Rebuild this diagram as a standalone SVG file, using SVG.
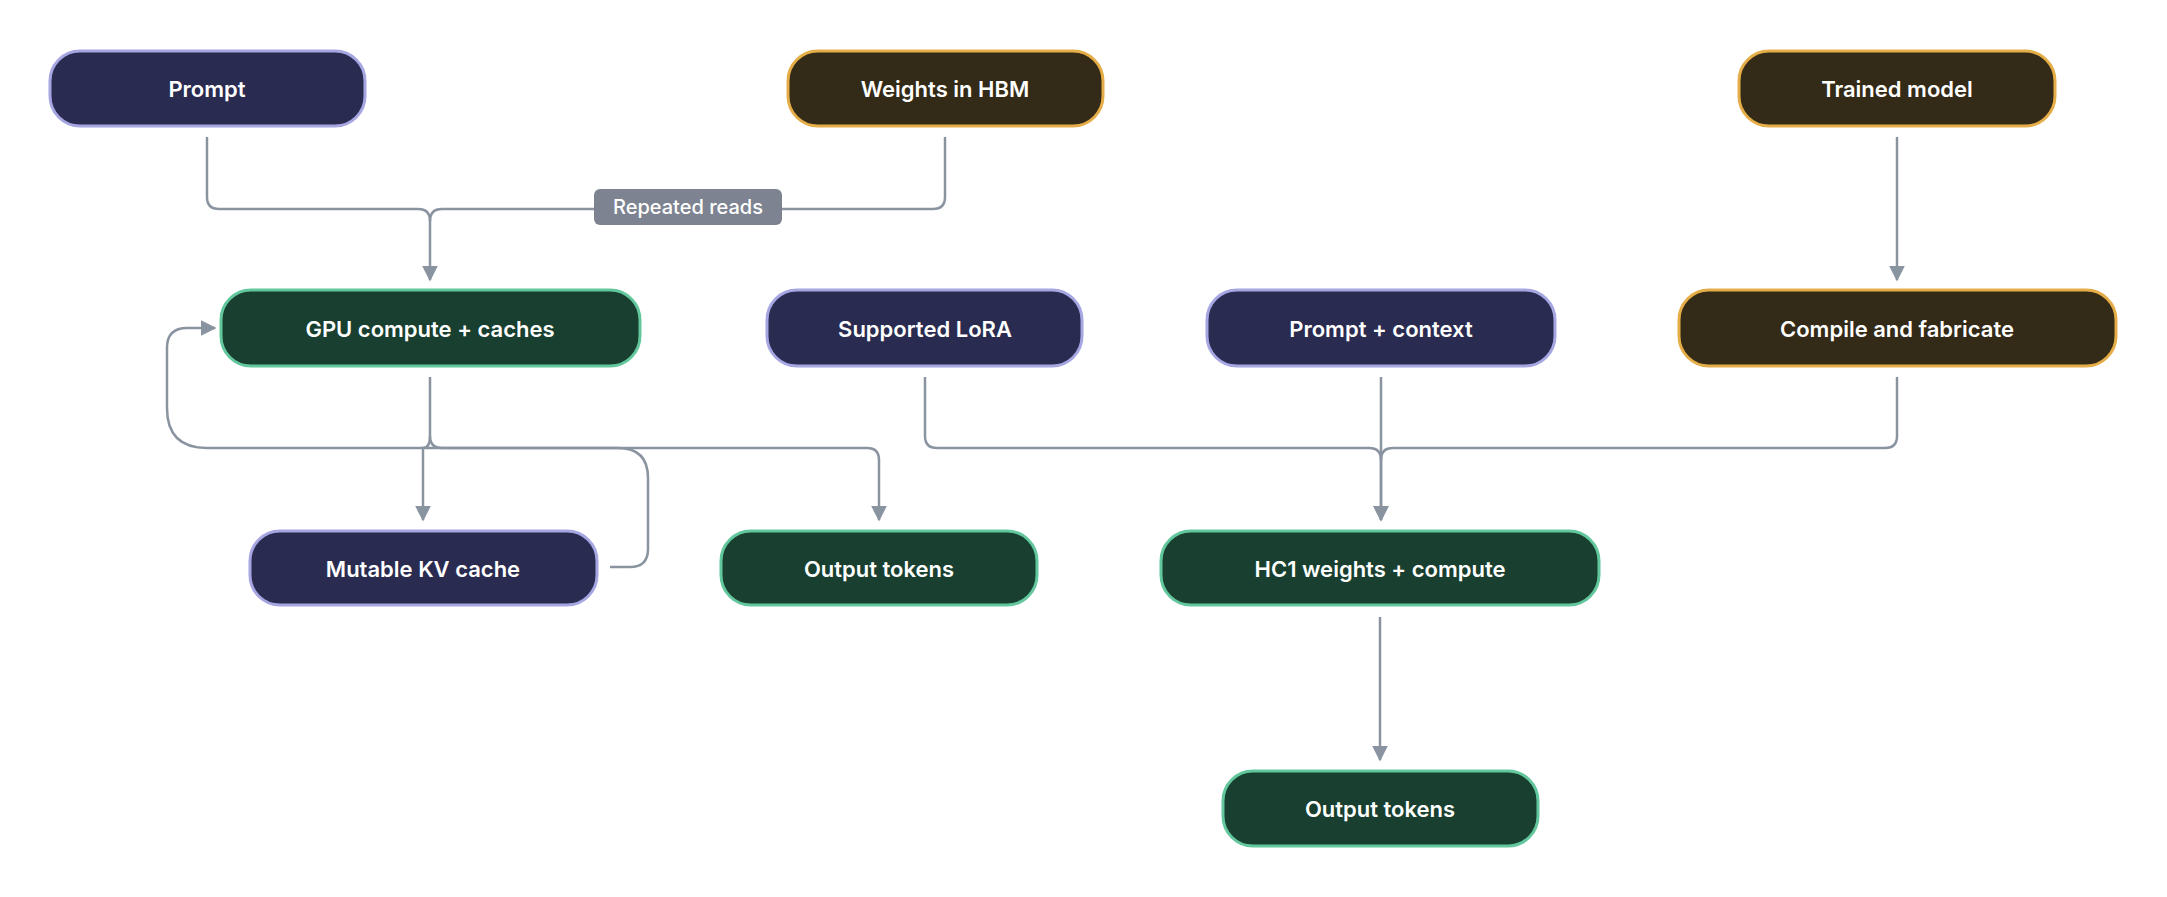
<svg xmlns="http://www.w3.org/2000/svg" width="2167" height="897" viewBox="0 0 2167 897">
<style>
.n rect{stroke-width:3}
.b rect{fill:#2a2b50;stroke:#a6a6e2}
.y rect{fill:#332a17;stroke:#e5ad48}
.g rect{fill:#183f2f;stroke:#62c79c}
text{font-family:Inter,"Liberation Sans",sans-serif;font-size:22px;font-weight:600;fill:#fff;text-anchor:middle;dominant-baseline:central}
.c path{fill:none;stroke:#8a93a0;stroke-width:2.5}
</style>
<defs><marker id="a" viewBox="0 0 10 10" refX="9" refY="5" markerWidth="7" markerHeight="7" orient="auto" markerUnits="userSpaceOnUse"><path d="M0,0L10,5L0,10z" fill="#8a93a0"/></marker>
<marker id="m" viewBox="0 0 10 10" refX="9" refY="5" markerWidth="16" markerHeight="16" orient="auto" markerUnits="userSpaceOnUse"><path d="M0,0L10,5L0,10z" fill="#8a93a0"/></marker></defs>
<rect width="2167" height="897" fill="#fff"/>
<g class="c">
<path d="M207,137V197q0,12 12,12H418q12,0 12,12V280" marker-end="url(#m)"/>
<path d="M945,137V197q0,12 -12,12H442q-12,0 -12,12"/>
<path d="M430,377V436q0,12 -7,12V520" marker-end="url(#m)"/>
<path d="M430,436q0,12 12,12H867q12,0 12,12V520" marker-end="url(#m)"/>
<path d="M610,567H630q18,0 18,-18V478q0,-30 -30,-30H207q-40,0 -40,-40V348q0,-20 20,-20H215" marker-end="url(#m)"/>
<path d="M925,377V436q0,12 12,12H1369q12,0 12,12V520" marker-end="url(#m)"/>
<path d="M1381,377V520" marker-end="url(#m)"/>
<path d="M1897,377V436q0,12 -12,12H1393q-12,0 -12,12"/>
<path d="M1897,137V280" marker-end="url(#m)"/>
<path d="M1380,617V760" marker-end="url(#m)"/>
</g>
<g id="label-repeated"><rect x="594" y="189" width="188" height="36" rx="6" fill="#7d8390"/><text x="688" y="207" style="font-size:20px;font-weight:500">Repeated reads</text></g>
<g id="prompt" class="n b"><rect x="50" y="51" width="315" height="75" rx="30"/><text x="207" y="89">Prompt</text></g>
<g id="weights" class="n y"><rect x="788" y="51" width="315" height="75" rx="30"/><text x="945" y="89">Weights in HBM</text></g>
<g id="trained" class="n y"><rect x="1739" y="51" width="316" height="75" rx="30"/><text x="1897" y="89">Trained model</text></g>
<g id="gpu" class="n g"><rect x="221" y="290" width="419" height="76" rx="30"/><text x="430" y="329">GPU compute + caches</text></g>
<g id="lora" class="n b"><rect x="767" y="290" width="315" height="76" rx="30"/><text x="925" y="329">Supported LoRA</text></g>
<g id="ctx" class="n b"><rect x="1207" y="290" width="348" height="76" rx="30"/><text x="1381" y="329">Prompt + context</text></g>
<g id="compile" class="n y"><rect x="1679" y="290" width="437" height="76" rx="30"/><text x="1897" y="329">Compile and fabricate</text></g>
<g id="kv" class="n b"><rect x="250" y="531" width="347" height="74" rx="30"/><text x="423" y="569">Mutable KV cache</text></g>
<g id="out1" class="n g"><rect x="721" y="531" width="316" height="74" rx="30"/><text x="879" y="569">Output tokens</text></g>
<g id="hc1" class="n g"><rect x="1161" y="531" width="438" height="74" rx="30"/><text x="1380" y="569">HC1 weights + compute</text></g>
<g id="out2" class="n g"><rect x="1223" y="771" width="315" height="75" rx="30"/><text x="1380" y="809">Output tokens</text></g>
</svg>
